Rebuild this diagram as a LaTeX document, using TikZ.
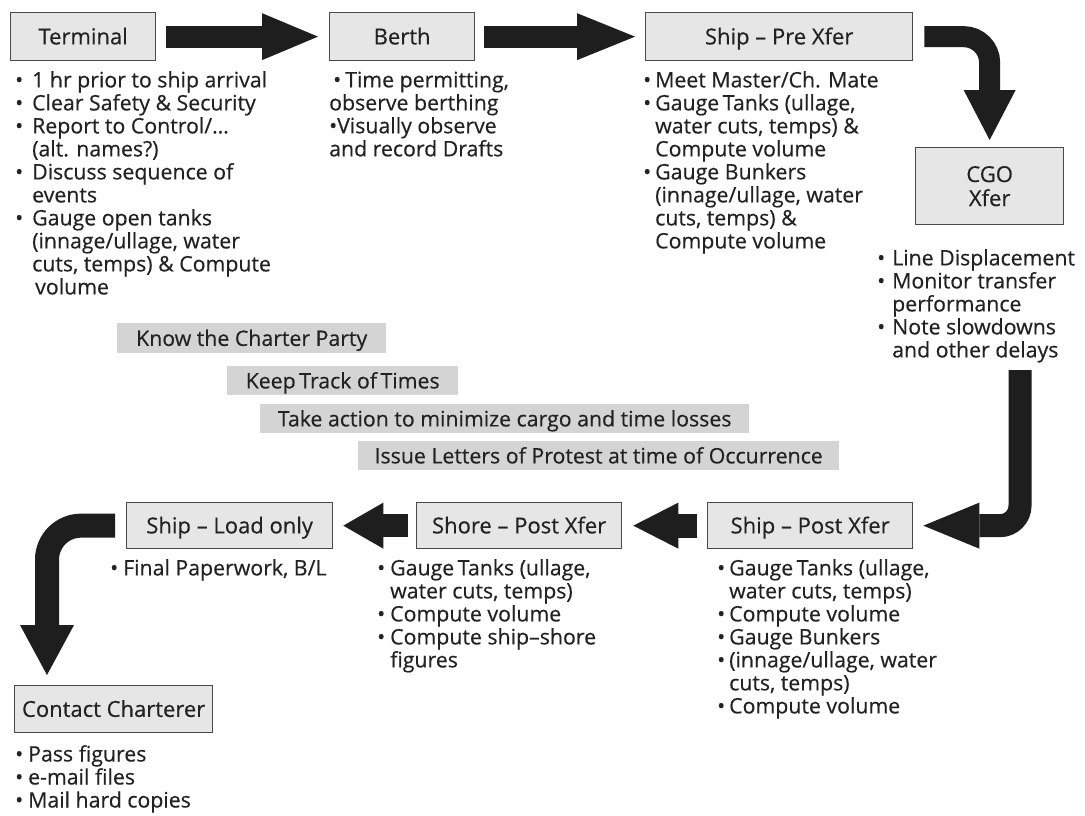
\documentclass[tikz,border=0pt]{standalone}
\usepackage{fontspec}
\setmainfont{Open Sans}[FakeBold=0.4,AutoFakeBold=0.4]
\usetikzlibrary{arrows.meta}
\definecolor{boxfill}{HTML}{E6E6E6}
\definecolor{boxline}{HTML}{4A4A4A}
\definecolor{bandfill}{HTML}{D4D4D4}
\definecolor{txt}{HTML}{222222}
\definecolor{arr}{HTML}{1E1E1E}
\newcommand{\bdot}{•}
\newcommand{\bitem}[2][14pt]{\strut\makebox[#1][l]{\bdot}#2}
\newcommand{\cont}[2][14pt]{\strut\hspace*{#1}#2}
\begin{document}
\begin{tikzpicture}[x=1pt,y=-1pt,
  box/.style={draw=boxline, fill=boxfill, line width=1.3pt, inner sep=0pt, anchor=north west,
    font=\fontsize{22}{24}\selectfont, text=txt, align=center},
  lbl/.style={text height=17pt, text depth=1.6pt},
  band/.style={fill=bandfill, inner sep=0pt, anchor=north west, minimum height=30pt,
    font=\fontsize{21.3}{24}\selectfont, text=txt, text height=17pt, text depth=1.6pt},
  lst/.style={inner sep=0pt, anchor=north west, align=left,
    font={\fontsize{21.3}{23}\selectfont\lineskiplimit=-20pt}, text=txt},
  blk/.style={arr, line width=22pt},
  tip/.style n args={2}{-{Triangle[width=#1,length=#2,line width=0pt]}}
]
\useasboundingbox (0,0) rectangle (1085,815);
\fill[white] (0,0) rectangle (1085,815);

% boxes
\node[box, lbl, minimum width=145pt, minimum height=48pt] (term) at (10,12) {Terminal};
\node[box, lbl, minimum width=145pt, minimum height=48pt] (berth) at (329,12) {Berth};
\node[box, lbl, minimum width=267pt, minimum height=48pt] (pre) at (645,12) {Ship – Pre Xfer};
\node[box, minimum width=148pt, minimum height=77pt] (cgo) at (915,147) {CGO\\Xfer};
\node[box, lbl, minimum width=206pt, minimum height=46pt] (load) at (126,502) {Ship – Load only};
\node[box, lbl, minimum width=205pt, minimum height=46pt] (shore) at (416,502) {Shore – Post Xfer};
\node[box, lbl, minimum width=205pt, minimum height=46pt] (post) at (707,502) {Ship – Post Xfer};
\node[box, lbl, minimum width=198pt, minimum height=47pt] (cont) at (14,685) {Contact Charterer};

% bands
\node[band, minimum width=269pt] (b1) at (117,323) {Know the Charter Party};
\node[band, minimum width=231pt, minimum height=29pt] (b2) at (227,366) {Keep\,Track of\,Times};
\node[band, minimum width=489pt, minimum height=29pt] (b3) at (260,404) {Take action to minimize cargo and time losses};
\node[band, minimum width=481pt, minimum height=29pt] (b4) at (358,441) {Issue Letters of Protest at time of Occurrence};

% lists
\node[lst] (tl) at (15,71) {\bitem[17pt]{1 hr prior to ship arrival}\\
  \bitem[17pt]{Clear Safety \& Security}\\
  \bitem[17pt]{Report to Control/…}\\
  \cont[17pt]{(alt. names?)}\\
  \bitem[17pt]{Discuss sequence of}\\
  \cont[17pt]{events}\\
  \bitem[17pt]{Gauge open tanks}\\
  \cont[17pt]{(innage/ullage, water}\\
  \cont[17pt]{cuts, temps) \& Compute}\\
  \cont[20pt]{volume}};
\node[lst] (bl) at (329,71) {\strut\hspace*{4pt}\makebox[12pt][l]{\bdot}Time permitting,\\
  \strut observe berthing\\
  \strut\makebox[8pt][l]{\bdot}Visually observe\\
  \strut and record Drafts};
\node[lst] (pl) at (643,71) {\bitem[12pt]{Meet Master/Ch. Mate}\\
  \bitem[12pt]{Gauge\,Tanks (ullage,}\\
  \cont[12pt]{water cuts, temps) \&}\\
  \cont[12pt]{Compute volume}\\
  \bitem[12pt]{Gauge Bunkers}\\
  \cont[12pt]{(innage/ullage, water}\\
  \cont[12pt]{cuts, temps) \&}\\
  \cont[12pt]{Compute volume}};
\node[lst] (cl) at (877,249) {\bitem[15pt]{Line Displacement}\\
  \bitem[15pt]{Monitor transfer}\\
  \cont[15pt]{performance}\\
  \bitem[15pt]{Note slowdowns}\\
  \cont[15pt]{and other delays}};
\node[lst] (ll) at (110,559) {\bitem[13pt]{Final Paperwork, B/L}};
\node[lst] (sl) at (377,559) {\bitem[13pt]{Gauge\,Tanks (ullage,}\\
  \cont[13pt]{water cuts, temps)}\\
  \bitem[13pt]{Compute volume}\\
  \bitem[13pt]{Compute ship–shore}\\
  \cont[13pt]{figures}};
\node[lst] (ql) at (717,559) {\bitem[12pt]{Gauge\,Tanks (ullage,}\\
  \cont[12pt]{water cuts, temps)}\\
  \bitem[12pt]{Compute volume}\\
  \bitem[12pt]{Gauge Bunkers}\\
  \bitem[12pt]{(innage/ullage, water}\\
  \cont[12pt]{cuts, temps)}\\
  \bitem[12pt]{Compute volume}};
\node[lst] (ctl) at (15,745) {\bitem[13pt]{Pass figures}\\
  \bitem[13pt]{e-mail files}\\
  \bitem[13pt]{Mail hard copies}};

% arrows
\coordinate (c4) at (1020,370);
\coordinate (c7) at (47,685);
\draw[blk, tip={47pt}{56pt}, shorten <=10pt, shorten >=11pt] (term.east) -- (berth.west);
\draw[blk, tip={47pt}{58pt}, shorten <=9pt, shorten >=10pt] (berth.east) -- (pre.west);
\draw[blk, line width=21pt, rounded corners=26pt, tip={52pt}{50pt}, shorten <=11pt, shorten >=7pt] (pre.east) -| (cgo.north);
\draw[blk, line width=23pt, rounded corners=20pt, tip={46pt}{56pt}, shorten >=10pt] (c4) |- (post.east);
\draw[blk, line width=24pt, tip={46pt}{45pt}, shorten <=10pt, shorten >=11pt] (post.west) -- (shore.east);
\draw[blk, line width=23pt, tip={46pt}{40pt}, shorten <=8pt, shorten >=10pt] (shore.west) -- (load.east);
\draw[blk, line width=24pt, rounded corners=34pt, tip={54pt}{50pt}, shorten <=11pt, shorten >=10pt] (load.west) -| (c7);
\end{tikzpicture}
\end{document}
